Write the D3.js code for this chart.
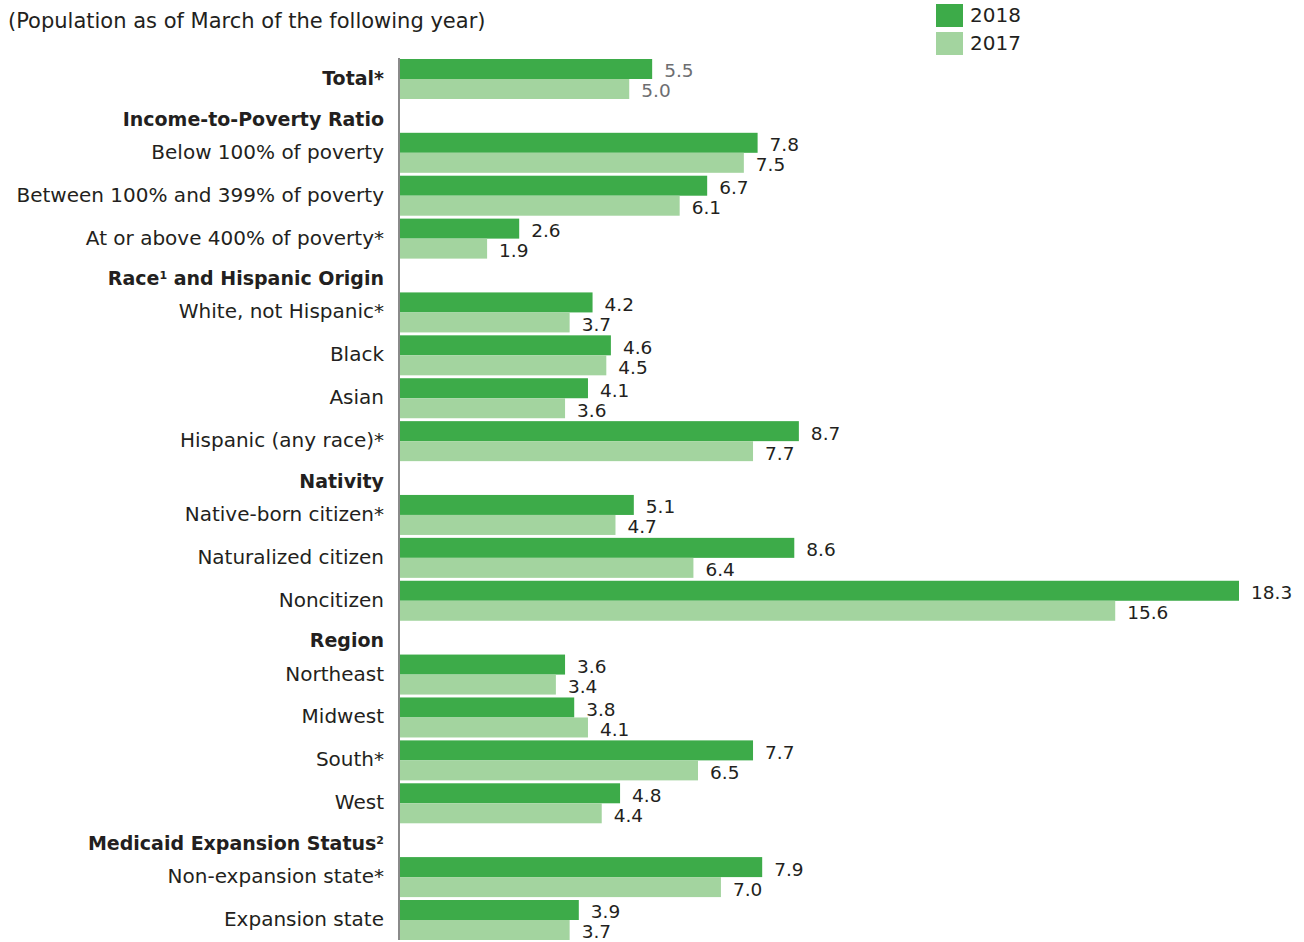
<!DOCTYPE html>
<html>
<head>
<meta charset="utf-8">
<script src="https://cdn.jsdelivr.net/npm/d3@7"></script>
<style>
  body { margin: 0; background: #fff; }
  svg { display: block; font-family: "DejaVu Sans", sans-serif; }
</style>
</head>
<body>
<svg id="chart"></svg>
<script>
// rows in order; type "h" = group header, "c" = category with bars
const rows = [
  {type: "c", label: "Total*", bold: true},
  {type: "h", label: "Income-to-Poverty Ratio"},
  {type: "c", label: "Below 100% of poverty"},
  {type: "c", label: "Between 100% and 399% of poverty"},
  {type: "c", label: "At or above 400% of poverty*"},
  {type: "h", label: "Race", sup: "1", rest: " and Hispanic Origin"},
  {type: "c", label: "White, not Hispanic*"},
  {type: "c", label: "Black"},
  {type: "c", label: "Asian"},
  {type: "c", label: "Hispanic (any race)*"},
  {type: "h", label: "Nativity"},
  {type: "c", label: "Native-born citizen*"},
  {type: "c", label: "Naturalized citizen"},
  {type: "c", label: "Noncitizen"},
  {type: "h", label: "Region"},
  {type: "c", label: "Northeast"},
  {type: "c", label: "Midwest"},
  {type: "c", label: "South*"},
  {type: "c", label: "West"},
  {type: "h", label: "Medicaid Expansion Status", sup: "2"},
  {type: "c", label: "Non-expansion state*"},
  {type: "c", label: "Expansion state"}
]

const v2018 = [5.5, 7.8, 6.7, 2.6, 4.2, 4.6, 4.1, 8.7, 5.1, 8.6, 18.3, 3.6, 3.8, 7.7, 4.8, 7.9, 3.9]
const v2017 = [5.0, 7.5, 6.1, 1.9, 3.7, 4.5, 3.6, 7.7, 4.7, 6.4, 15.6, 3.4, 4.1, 6.5, 4.4, 7.0, 3.7]
const years = ["2018", "2017"]
const colors = ["#3dab49", "#a3d49f"]

const width = 1304, height = 942
const headerW = 0.72

// slot position for each row (headers are shorter than categories)
let pos = 0
rows.forEach(r => {
  if (r.type === "h") { r.slot = pos - 1 + (1 + headerW) / 2; pos += headerW }
  else { r.slot = pos; pos += 1 }
})
const cats = rows.filter(r => r.type === "c")
cats.forEach((c, i) => { c.a = v2018[i]; c.b = v2017[i] })

const svg = d3.select("#chart").attr("width", width).attr("height", height)

const x = d3.scaleLinear().domain([0, 18.3]).range([400, 1239])
const y = d3.scaleLinear().domain([0, cats[cats.length - 1].slot]).range([59, 900])
const barH = 20
const fs = 20

svg.append("text")
  .attr("x", 8).attr("y", 21).attr("dy", "0.35em")
  .attr("font-size", 21).attr("fill", "#231f20")
  .text("(Population as of March of the following year)")

// legend
const lg = svg.append("g")
years.forEach((yr, i) => {
  lg.append("rect").attr("x", 936).attr("y", 4 + i * 28).attr("width", 27).attr("height", 23).attr("fill", colors[i])
  lg.append("text").attr("x", 970).attr("y", 14.5 + i * 28).attr("dy", "0.35em")
    .attr("font-size", fs).attr("fill", "#231f20").text(yr)
})

const g = svg.append("g")

cats.forEach(c => {
  const top = y(c.slot)
  ;[c.a, c.b].forEach((v, k) => {
    g.append("rect")
      .attr("x", x(0)).attr("y", top + k * barH)
      .attr("width", x(v) - x(0)).attr("height", barH)
      .attr("fill", colors[k])
    g.append("text")
      .attr("x", x(v) + 12).attr("y", top + k * barH + barH / 2 + 2)
      .attr("dy", "0.35em")
      .attr("font-size", 18.5)
      .attr("fill", c.bold ? "#6d6e71" : "#231f20")
      .text(v.toFixed(1))
  })
  g.append("text")
    .attr("x", 384).attr("y", top + barH - 1).attr("dy", "0.35em")
    .attr("text-anchor", "end").attr("font-size", c.bold ? 19 : fs)
    .attr("font-weight", c.bold ? "bold" : "normal")
    .attr("fill", "#231f20")
    .text(c.label)
})

rows.filter(r => r.type === "h").forEach(r => {
  const t = g.append("text")
    .attr("x", 384).attr("y", y(r.slot) + barH + 3).attr("dy", "0.35em")
    .attr("text-anchor", "end").attr("font-size", 19)
    .attr("font-weight", "bold").attr("fill", "#231f20")
  t.append("tspan").text(r.label)
  if (r.sup) {
    t.append("tspan").attr("font-size", 11).attr("baseline-shift", "super").text(r.sup)
  }
  if (r.rest) t.append("tspan").text(r.rest)
})

// axis line
g.append("line")
  .attr("x1", 399).attr("x2", 399)
  .attr("y1", 58).attr("y2", 940)
  .attr("stroke", "#8a8a8a").attr("stroke-width", 2)
</script>
</body>
</html>
